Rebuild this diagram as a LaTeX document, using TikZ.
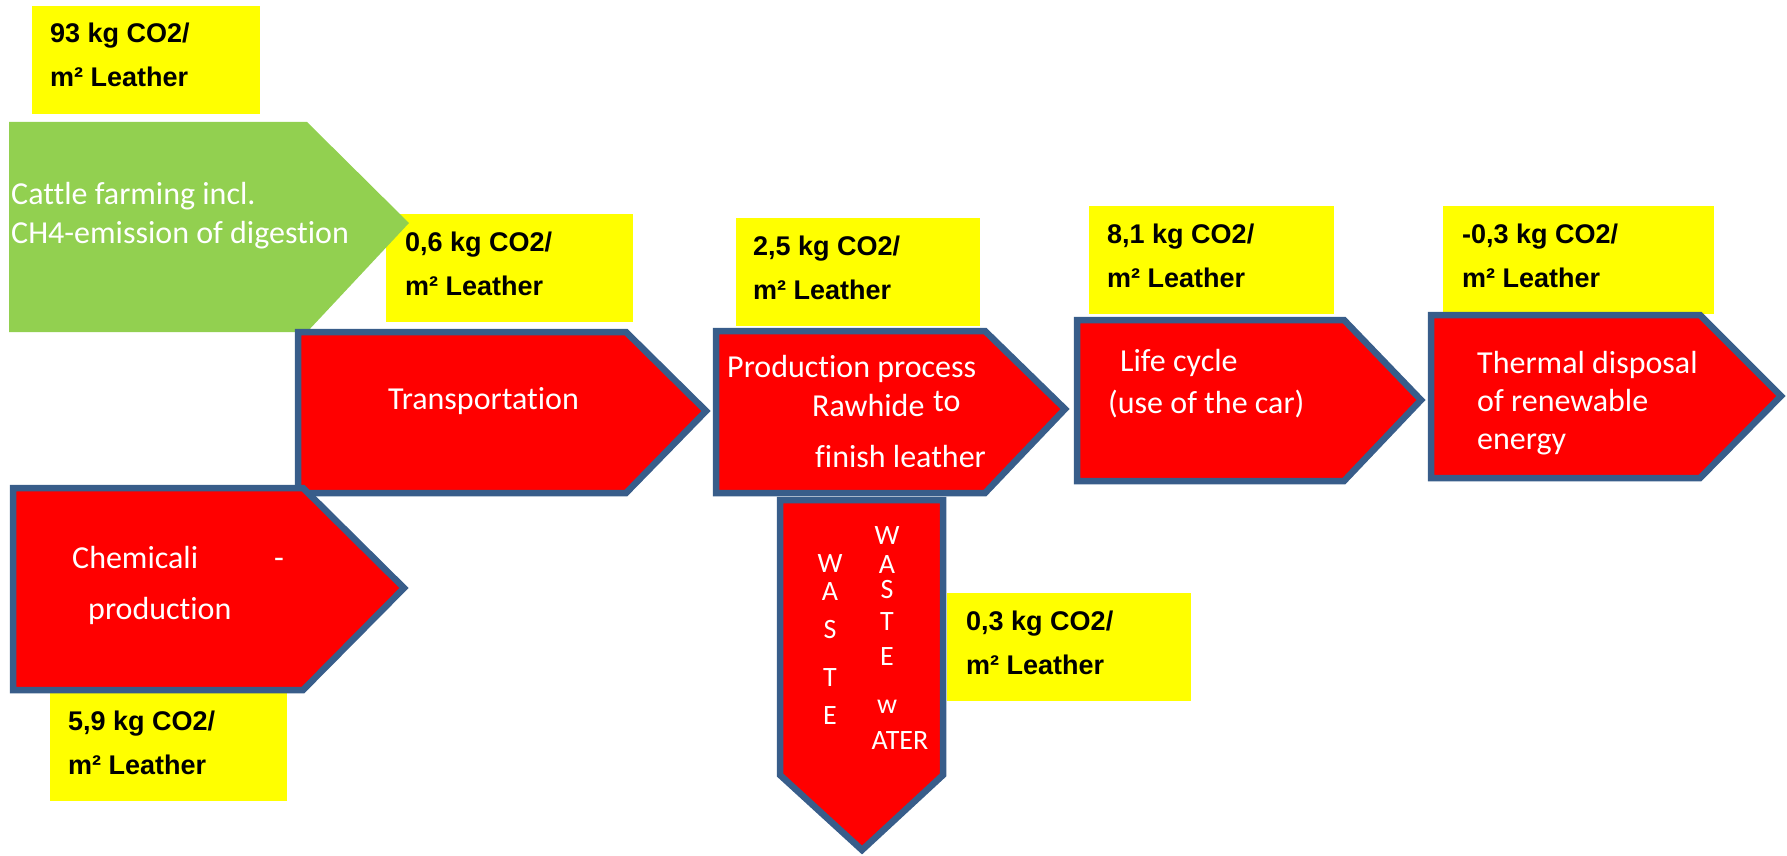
\documentclass[tikz,border=0pt]{standalone}
\usepackage{fontspec}
\setmainfont{Carlito}[Ligatures=NoCommon]
\newfontfamily\lsans{Liberation Sans}
\definecolor{bord}{HTML}{385D8A}
\definecolor{grn}{HTML}{92D050}
\definecolor{ylw}{HTML}{FFFF00}
\definecolor{rd}{HTML}{FF0000}
\tikzset{
 redarrow/.style={fill=rd, draw=bord, line width=6.5pt, line join=miter},
 greenarrow/.style={fill=grn, draw=none},
 ybox/.style={fill=ylw, draw=none, inner sep=0pt, anchor=north west},
 ytext/.style={anchor=base west, inner sep=0pt, font=\lsans\bfseries\fontsize{27}{32}\selectfont},
 wtext/.style={anchor=base west, inner sep=0pt, text=white, font=\fontsize{32}{38}\selectfont},
 wastetext/.style={anchor=base, inner sep=0pt, text=white, font=\fontsize{28}{33}\selectfont},
}
\begin{document}
\begin{tikzpicture}[x=1pt,y=-1pt]
\useasboundingbox (0,0) rectangle (1787,856);
% yellow boxes
\node[ybox, minimum width=228pt, minimum height=108pt] (y1) at (32,6) {};
\node[ybox, minimum width=247pt, minimum height=108pt] (y2) at (386,214) {};
\node[ybox, minimum width=244pt, minimum height=108pt] (y3) at (736,218) {};
\node[ybox, minimum width=245pt, minimum height=108pt] (y4) at (1089,206) {};
\node[ybox, minimum width=271pt, minimum height=108pt] (y5) at (1443,206) {};
\node[ybox, minimum width=244pt, minimum height=108pt] (y6) at (947,593) {};
\node[ybox, minimum width=237pt, minimum height=108pt] (y7) at (50,693) {};
% green arrow
\path[greenarrow] (9,122) -- (307,122) -- (409,223) -- (307,332) -- (9,332) -- cycle;
% red arrows
\path[redarrow] (298,332) -- (626,332) -- (706,411) -- (626,493) -- (298,493) -- cycle;
\path[redarrow] (780,500) -- (943,500) -- (943,775) -- (862,850) -- (780,775) -- cycle;
\path[redarrow] (716,331) -- (985,331) -- (1065,409) -- (985,493) -- (716,493) -- cycle;
\path[redarrow] (1077,320) -- (1344,320) -- (1421,400) -- (1344,481) -- (1077,481) -- cycle;
\path[redarrow] (1431,315) -- (1700,315) -- (1781,396) -- (1700,478) -- (1431,478) -- cycle;
\path[redarrow] (13,488) -- (303,488) -- (404,588) -- (303,690) -- (13,690) -- cycle;
% yellow texts
\node[ytext] (t1a) at (50,43) {93 kg CO2/};
\node[ytext] (t1b) at (50,87) {m² Leather};
\node[ytext] (t2a) at (405,251) {0,6 kg CO2/};
\node[ytext] (t2b) at (405,295) {m² Leather};
\node[ytext] (t3a) at (753,255) {2,5 kg CO2/};
\node[ytext] (t3b) at (753,299) {m² Leather};
\node[ytext] (t4a) at (1107,243) {8,1 kg CO2/};
\node[ytext] (t4b) at (1107,287) {m² Leather};
\node[ytext] (t5a) at (1462,243) {-0,3 kg CO2/};
\node[ytext] (t5b) at (1462,287) {m² Leather};
\node[ytext] (t6a) at (966,630) {0,3 kg CO2/};
\node[ytext] (t6b) at (966,674) {m² Leather};
\node[ytext] (t7a) at (68,730) {5,9 kg CO2/};
\node[ytext] (t7b) at (68,774) {m² Leather};
% arrow texts
\node[wtext] (g1) at (11,204) {Cattle farming incl.};
\node[wtext] (g2) at (11,243) {CH4-emission of digestion};
\node[wtext] (tr) at (388,409) {Transportation};
\node[wtext] (p1) at (727,377) {Production process};
\node[wtext] (p2) at (812,416) {Rawhide};
\node[wtext] (p3) at (933,411) {to};
\node[wtext] (p4) at (815,467) {finish leather};
\node[wtext] (l1) at (1120,371) {Life cycle};
\node[wtext] (l2) at (1108,413) {(use of the car)};
\node[wtext] (h1) at (1477,373) {Thermal disposal};
\node[wtext] (h2) at (1477,411) {of renewable};
\node[wtext] (h3) at (1477,449) {energy};
\node[wtext] (c1) at (72,568) {Chemicali};
\node[wtext] (c2) at (274,568) {-};
\node[wtext] (c3) at (88,619) {production};
% waste letters
\node[wastetext] (wa1) at (830,572) {W};
\node[wastetext] (wa2) at (830,600) {A};
\node[wastetext] (wa3) at (830,638) {S};
\node[wastetext] (wa4) at (830,686) {T};
\node[wastetext] (wa5) at (830,724) {E};
\node[wastetext] (wb1) at (887,544) {W};
\node[wastetext] (wb2) at (887,573) {A};
\node[wastetext] (wb3) at (887,598) {S};
\node[wastetext] (wb4) at (887,630) {T};
\node[wastetext] (wb5) at (887,665) {E};
\node[wastetext] (wb6) at (887,713) {w};
\node[wastetext] (wb7) at (900,749) {ATER};
\end{tikzpicture}
\end{document}
